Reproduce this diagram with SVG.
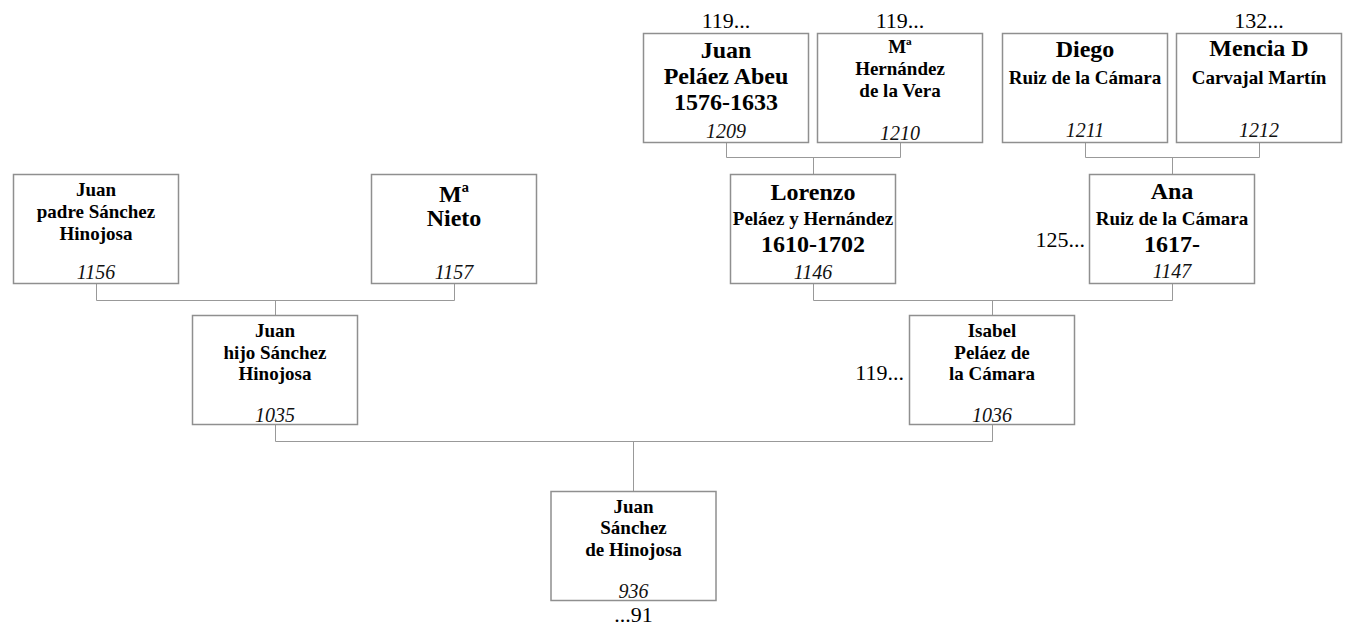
<svg xmlns="http://www.w3.org/2000/svg" width="1348" height="626" viewBox="0 0 1348 626">
<style>
  .box { fill: #ffffff; stroke: #8f8f8f; stroke-width: 1.5; }
  .conn { fill: none; stroke: #999999; stroke-width: 1; }
  text { font-family: "Liberation Serif", "Times New Roman", serif; fill: #000000; text-anchor: middle; }
  .big { font-size: 24px; font-weight: bold; }
  .mid { font-size: 19px; font-weight: bold; }
  .num { font-size: 20px; font-style: italic; fill: #111111; }
  .ext { font-size: 22px; }
  .end { text-anchor: end; }
</style>
<rect width="1348" height="626" fill="#ffffff"/>
<g id="connectors">
  <path class="conn" d="M726.5,143 V157.5 H900.5 V143 M813.5,157.5 V174"/>
  <path class="conn" d="M1085.5,143 V157.5 H1259.5 V143 M1172.5,157.5 V174"/>
  <path class="conn" d="M96.5,284 V300.5 H454.5 V284 M275.5,300.5 V315"/>
  <path class="conn" d="M813.5,284 V300.5 H1172.5 V284 M992.5,300.5 V315"/>
  <path class="conn" d="M275.5,425 V441.5 H992.5 V425 M633.5,441.5 V491"/>
</g>
<g id="n1209">
  <rect class="box" x="643.5" y="33.5" width="165" height="109"/>
  <text class="ext" x="726" y="28">119...</text>
  <text class="big" x="726" y="58">Juan</text>
  <text class="big" x="726" y="83.5">Peláez Abeu</text>
  <text class="big" x="726" y="110">1576-1633</text>
  <text class="num" x="726" y="137.5">1209</text>
</g>
<g id="n1210">
  <rect class="box" x="817.5" y="33.5" width="165" height="109"/>
  <text class="ext" x="900" y="28">119...</text>
  <text class="mid" x="900" y="53">Mª</text>
  <text class="mid" x="900" y="75">Hernández</text>
  <text class="mid" x="900" y="97">de la Vera</text>
  <text class="num" x="900" y="139.5">1210</text>
</g>
<g id="n1211">
  <rect class="box" x="1002.5" y="33.5" width="165" height="109"/>
  <text class="big" x="1085" y="56.5">Diego</text>
  <text class="mid" x="1085" y="84">Ruiz de la Cámara</text>
  <text class="num" x="1085" y="137">1211</text>
</g>
<g id="n1212">
  <rect class="box" x="1176.5" y="33.5" width="165" height="109"/>
  <text class="ext" x="1259" y="28">132...</text>
  <text class="big" x="1259" y="55.5">Mencia D</text>
  <text class="mid" x="1259" y="83.5">Carvajal Martín</text>
  <text class="num" x="1259" y="137">1212</text>
</g>
<g id="n1156">
  <rect class="box" x="13.5" y="174.5" width="165" height="109"/>
  <text class="mid" x="96" y="196">Juan</text>
  <text class="mid" x="96" y="218">padre Sánchez</text>
  <text class="mid" x="96" y="239.5">Hinojosa</text>
  <text class="num" x="96" y="279">1156</text>
</g>
<g id="n1157">
  <rect class="box" x="371.5" y="174.5" width="165" height="109"/>
  <text class="big" x="454" y="201.5">Mª</text>
  <text class="big" x="454" y="225.5">Nieto</text>
  <text class="num" x="454" y="279">1157</text>
</g>
<g id="n1146">
  <rect class="box" x="730.5" y="174.5" width="165" height="109"/>
  <text class="big" x="813" y="199.5">Lorenzo</text>
  <text class="mid" x="813" y="224.5">Peláez y Hernández</text>
  <text class="big" x="813" y="251.5">1610-1702</text>
  <text class="num" x="813" y="278.5">1146</text>
</g>
<g id="n1147">
  <rect class="box" x="1089.5" y="174.5" width="165" height="109"/>
  <text class="ext end" x="1085" y="247">125...</text>
  <text class="big" x="1172" y="199">Ana</text>
  <text class="mid" x="1172" y="225">Ruiz de la Cámara</text>
  <text class="big" x="1172" y="251.5">1617-</text>
  <text class="num" x="1172" y="278">1147</text>
</g>
<g id="n1035">
  <rect class="box" x="192.5" y="315.5" width="165" height="109"/>
  <text class="mid" x="275" y="336.5">Juan</text>
  <text class="mid" x="275" y="358.5">hijo Sánchez</text>
  <text class="mid" x="275" y="380">Hinojosa</text>
  <text class="num" x="275" y="421.5">1035</text>
</g>
<g id="n1036">
  <rect class="box" x="909.5" y="315.5" width="165" height="109"/>
  <text class="ext end" x="904" y="380">119...</text>
  <text class="mid" x="992" y="336.5">Isabel</text>
  <text class="mid" x="992" y="358.5">Peláez de</text>
  <text class="mid" x="992" y="380">la Cámara</text>
  <text class="num" x="992" y="421.5">1036</text>
</g>
<g id="n936">
  <rect class="box" x="551" y="491.5" width="165" height="109"/>
  <text class="mid" x="633.5" y="512.5">Juan</text>
  <text class="mid" x="633.5" y="534">Sánchez</text>
  <text class="mid" x="633.5" y="555.5">de Hinojosa</text>
  <text class="num" x="633.5" y="597.5">936</text>
  <text class="ext" x="633.5" y="621.5">...91</text>
</g>
</svg>
